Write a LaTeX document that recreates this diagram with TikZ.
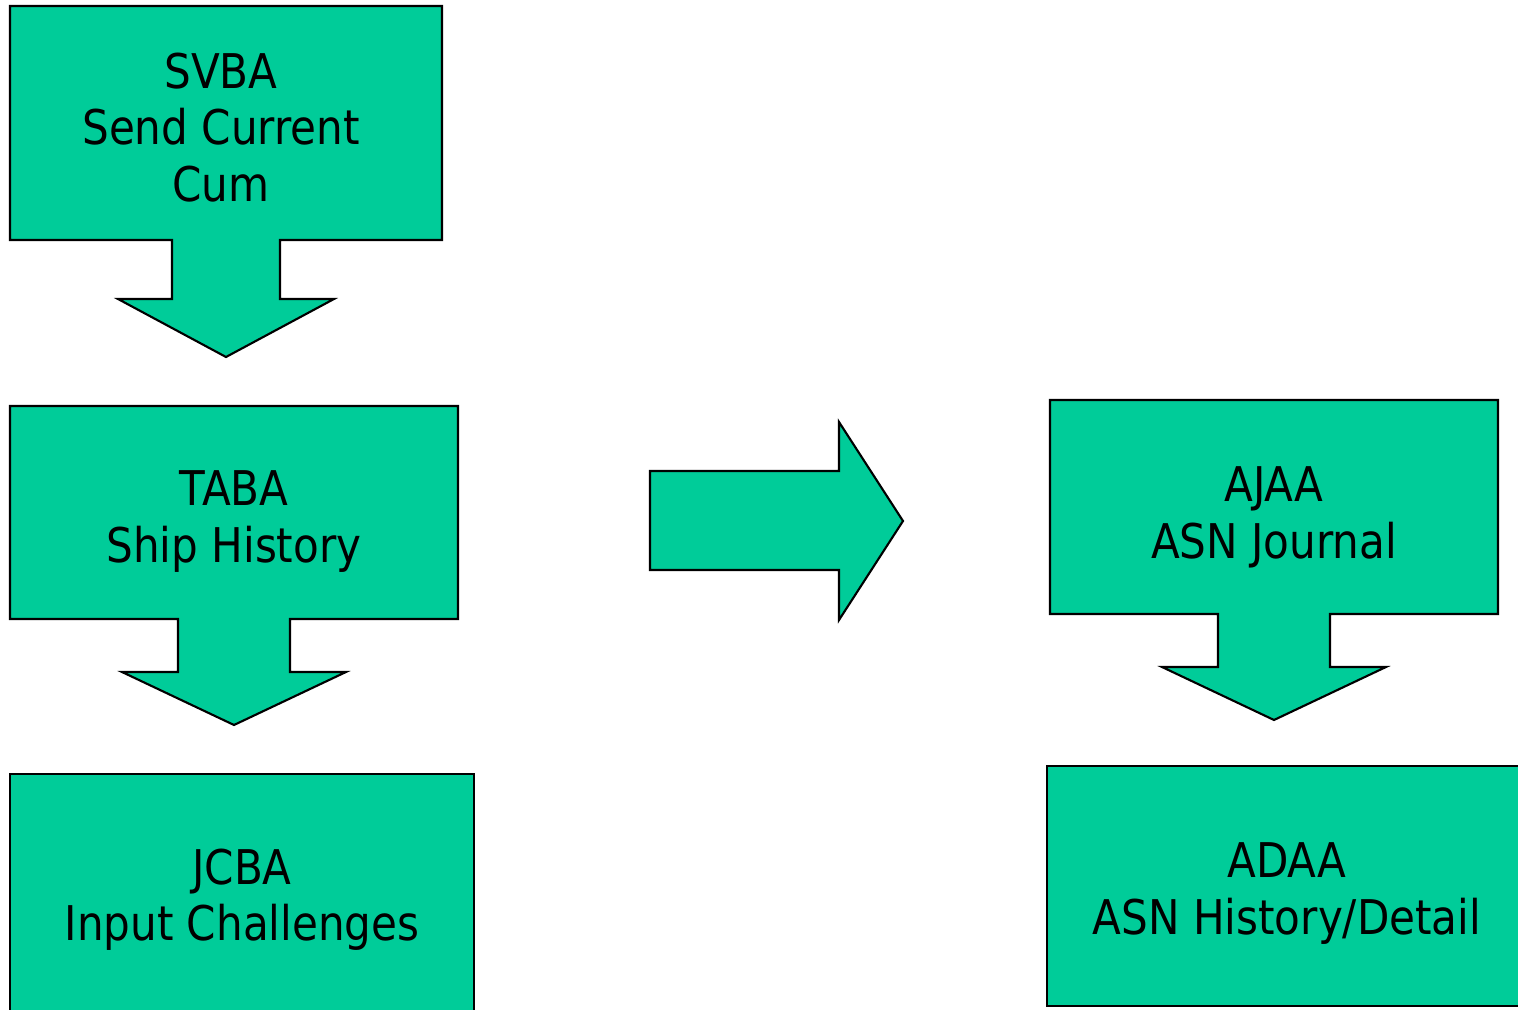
\documentclass[tikz,border=0pt]{standalone}
\usepackage{fontspec}
\setmainfont{DejaVu Sans}[FakeStretch=0.88]
\usetikzlibrary{calc}
\definecolor{boxgreen}{RGB}{0,204,153}

\begin{document}
\begin{tikzpicture}[x=0.01cm, y=-0.01cm,
        block/.style={fill=boxgreen, draw=black, line width=0.6pt, line join=miter},
        boxtext/.style={anchor=north, inner sep=0pt, align=center, font=\fontsize{13.6}{16.1}\selectfont}]

        \useasboundingbox (0,0) rectangle (1518,1010);

        % left column
        \begin{scope}
            % SVBA with arrow down
            \draw[block] (10,6) -- (442,6) -- (442,240) -- (280,240) -- (280,299) -- (334,299)
                -- (226,357) -- (118,299) -- (172,299) -- (172,240) -- (10,240) -- cycle;
            \node[boxtext] (svba) at (221,52) {SVBA\\Send Current\\Cum};

            % TABA with arrow down
            \draw[block] (10,406) -- (458,406) -- (458,619) -- (290,619) -- (290,672) -- (346,672)
                -- (234,725) -- (122,672) -- (178,672) -- (178,619) -- (10,619) -- cycle;
            \node[boxtext] (taba) at (234,470) {TABA\\Ship History};

            % JCBA
            \draw[block] (10,774) rectangle (474,1014);
            \node[boxtext] (jcba) at (242,848) {JCBA\\Input Challenges};
        \end{scope}

        % big arrow to the right
        \draw[block] (650,471) -- (839,471) -- (839,422) -- (903,521) -- (839,620) -- (839,570)
            -- (650,570) -- cycle;

        % right column
        \begin{scope}
            % AJAA with arrow down
            \draw[block] (1050,400) -- (1498,400) -- (1498,614) -- (1330,614) -- (1330,667) -- (1386,667)
                -- (1274,720) -- (1162,667) -- (1218,667) -- (1218,614) -- (1050,614) -- cycle;
            \node[boxtext] (ajaa) at (1274,466) {AJAA\\ASN Journal};

            % ADAA
            \draw[block] (1047,766) rectangle (1527,1006);
            \node[boxtext] (adaa) at (1287,842) {ADAA\\ASN History/Detail};
        \end{scope}

    \end{tikzpicture}
\end{document}
